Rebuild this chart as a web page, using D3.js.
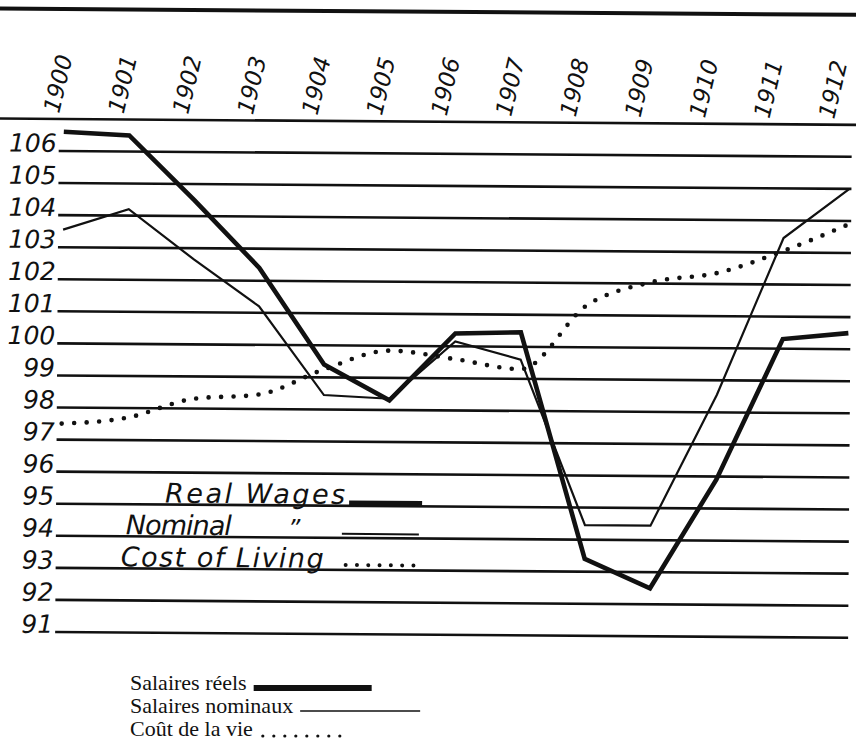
<!DOCTYPE html>
<html>
<head>
<meta charset="utf-8">
<script src="https://cdn.jsdelivr.net/npm/d3@7"></script>
<style>
  body { margin: 0; background: #fff; }
  svg { display: block; }
</style>
</head>
<body>
<svg id="chart" width="856" height="752"></svg>
<script>
// values (index numbers)
const years = [1900, 1901, 1902, 1903, 1904, 1905, 1906, 1907, 1908, 1909, 1910, 1911, 1912];
const realWages = [106.6, 106.5, 104.5, 102.4, 99.4, 98.3, 100.4, 100.45, 93.4, 92.5, 95.9, 100.3, 100.5];
const nominalWages = [103.55, 104.2, 102.65, 101.2, 98.45, 98.35, 100.15, 99.6, 94.45, 94.45, 98.55, 103.45, 105.0];
const costOfLiving = [97.5, 97.7, 98.3, 98.45, 99.25, 99.85, 99.6, 99.3, 101.3, 102.05, 102.35, 103.05, 103.9];
const yTicks = [106, 105, 104, 103, 102, 101, 100, 99, 98, 97, 96, 95, 94, 93, 92, 91];
const legendEn = ["Real Wages", "Nominal", "Cost of Living"];
const legendFr = ["Salaires réels", "Salaires nominaux", "Coût de la vie"];

const width = 856, height = 752;
const hand = "'DejaVu Sans', sans-serif";
const ink = "#111";

const svg = d3.select("#chart");

// the scanned sheet sits a little crooked
const sheet = svg.append("g").attr("transform", "rotate(0.42, 60, 380)");

const x = d3.scalePoint().domain(years).range([62, 848]);
const xLabel = d3.scalePoint().domain(years).range([57, 832]);
const y = d3.scaleLinear().domain([91, 106]).range([632, 151]);

// heavy rule at top and the rule under the years
sheet.append("line")
  .attr("x1", -10).attr("x2", width + 10)
  .attr("y1", 9).attr("y2", 9)
  .attr("stroke", ink).attr("stroke-width", 4);
sheet.append("line")
  .attr("x1", -10).attr("x2", width + 10)
  .attr("y1", 119).attr("y2", 119)
  .attr("stroke", ink).attr("stroke-width", 2.6);

// year labels, written sloping upward
sheet.append("g")
  .selectAll("text")
  .data(years)
  .join("text")
  .attr("transform", d => `translate(${xLabel(d)},114) rotate(-77)`)
  .attr("font-family", hand)
  .attr("font-style", "oblique")
  .attr("font-size", 23)
  .attr("fill", ink)
  .text(d => d);

// ruled lines for each index point
sheet.append("g")
  .selectAll("line")
  .data(yTicks)
  .join("line")
  .attr("x1", 57).attr("x2", 850)
  .attr("y1", d => y(d)).attr("y2", d => y(d))
  .attr("stroke", ink)
  .attr("stroke-width", 2.6);

sheet.append("g")
  .selectAll("text")
  .data(yTicks)
  .join("text")
  .attr("x", 55)
  .attr("y", d => y(d) + 1)
  .attr("text-anchor", "end")
  .attr("font-family", hand)
  .attr("font-style", "oblique")
  .attr("font-size", 25)
  .attr("fill", ink)
  .text(d => d);

// the three series
const line = d3.line().x((d, i) => x(years[i])).y(d => y(d));
const smooth = d3.line().x((d, i) => x(years[i])).y(d => y(d)).curve(d3.curveMonotoneX);

sheet.append("path")
  .datum(costOfLiving)
  .attr("d", smooth)
  .attr("fill", "none")
  .attr("stroke", ink)
  .attr("stroke-width", 4.6)
  .attr("stroke-linecap", "round")
  .attr("stroke-dasharray", "0 12.5");

sheet.append("path")
  .datum(nominalWages)
  .attr("d", line)
  .attr("fill", "none")
  .attr("stroke", ink)
  .attr("stroke-width", 2.2)
  .attr("stroke-linejoin", "miter");

sheet.append("path")
  .datum(realWages)
  .attr("d", line)
  .attr("fill", "none")
  .attr("stroke", ink)
  .attr("stroke-width", 4.6)
  .attr("stroke-linejoin", "miter");

// hand-lettered key sitting on the 95 / 94 / 93 lines
const keyEn = sheet.append("g")
  .attr("font-family", hand)
  .attr("font-style", "oblique")
  .attr("font-size", 27)
  .attr("fill", ink);

keyEn.append("text").attr("x", 166).attr("y", y(95) - 2).attr("textLength", 180).text(legendEn[0]);
keyEn.append("text").attr("x", 127).attr("y", y(94) - 2).attr("textLength", 106).text(legendEn[1]);
keyEn.append("text").attr("x", 289).attr("y", y(94) - 1).attr("font-size", 24).text("\u201D");
keyEn.append("text").attr("x", 122).attr("y", y(93) - 2).attr("textLength", 203).text(legendEn[2]);

keyEn.append("line")
  .attr("x1", 350).attr("x2", 423)
  .attr("y1", y(95) - 3).attr("y2", y(95) - 3)
  .attr("stroke", ink).attr("stroke-width", 4.6);
keyEn.append("line")
  .attr("x1", 343).attr("x2", 420)
  .attr("y1", y(94) - 4).attr("y2", y(94) - 4)
  .attr("stroke", ink).attr("stroke-width", 2);
keyEn.append("line")
  .attr("x1", 347).attr("x2", 426)
  .attr("y1", y(93) - 5).attr("y2", y(93) - 5)
  .attr("stroke", ink).attr("stroke-width", 4)
  .attr("stroke-linecap", "round")
  .attr("stroke-dasharray", "0 11.3");

// printed French key below the chart
const keyFr = svg.append("g")
  .attr("font-family", "'Liberation Serif', serif")
  .attr("font-size", 22)
  .attr("fill", ink);

const frRows = [
  { label: legendFr[0], gap: 7, len: 118, width: 6, dash: null },
  { label: legendFr[1], gap: 7, len: 120, width: 1.6, dash: null },
  { label: legendFr[2], gap: 10, len: 77.5, width: 3.2, dash: "0 11" }
];

frRows.forEach((r, i) => {
  const base = 690 + i * 23;
  const t = keyFr.append("text").attr("x", 130).attr("y", base).text(r.label);
  const x1 = 130 + t.node().getComputedTextLength() + r.gap;
  const ln = keyFr.append("line")
    .attr("x1", x1).attr("x2", x1 + r.len)
    .attr("y1", base - 2).attr("y2", base - 2)
    .attr("stroke", ink)
    .attr("stroke-width", r.width);
  if (r.dash) ln.attr("stroke-linecap", "round").attr("stroke-dasharray", r.dash).attr("y1", base).attr("y2", base);
});
</script>
</body>
</html>
